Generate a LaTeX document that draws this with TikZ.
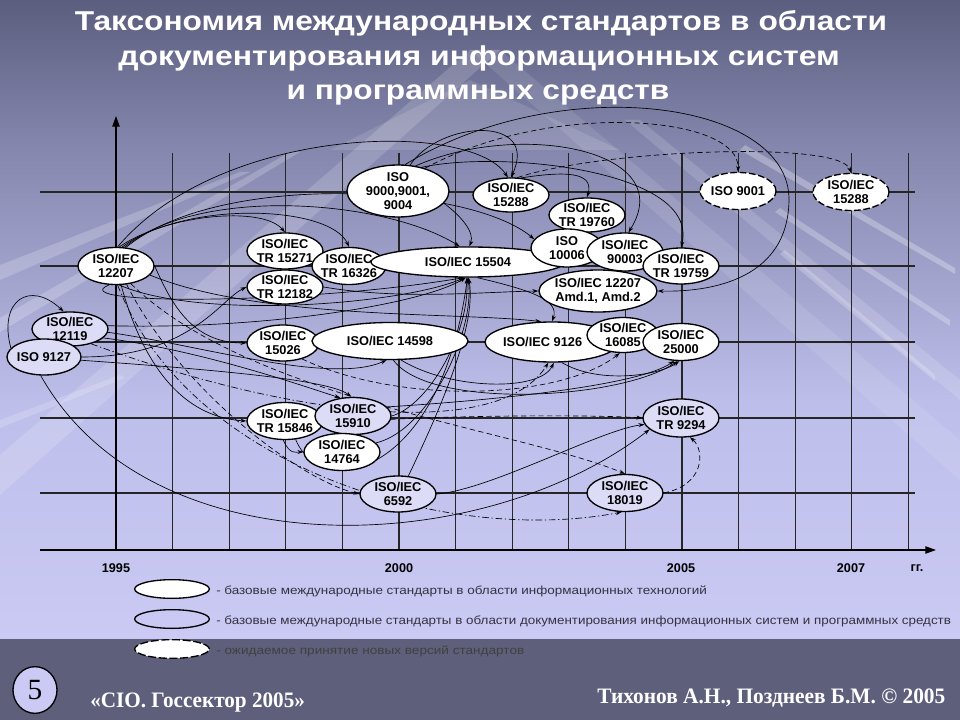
\documentclass[tikz,border=0pt]{standalone}
\usepackage{fontspec}
\usepackage{graphicx}
\setmainfont{Liberation Sans}
\newfontfamily\serifb{Liberation Serif}
\usetikzlibrary{shapes.geometric,arrows.meta}
\pgfdeclarelayer{bg}
\pgfdeclarelayer{edges}
\pgfsetlayers{bg,edges,main}
\definecolor{bgtop}{HTML}{5B5E7E}
\definecolor{bgmidA}{HTML}{8385AC}
\definecolor{bgmidB}{HTML}{BDBEEA}
\definecolor{bglow}{HTML}{CACAF4}
\definecolor{band}{HTML}{5E607B}
\definecolor{lav}{HTML}{DCDCF6}
\definecolor{legtxt}{HTML}{333340}
\begin{document}
\begin{tikzpicture}[x=0.75pt,y=-0.75pt,
  ov/.style 2 args={ellipse,draw=black,line width=1pt,inner xsep=-8pt,inner ysep=-4pt,
     minimum width=#1*1.5pt,minimum height=#2*1.5pt,fill=white,align=center,
     font=\bfseries\fontsize{9.6}{10.4}\selectfont},
  lv/.style={fill=lav},
  ex/.style={dashed,dash pattern=on 5pt off 2pt},
  gridl/.style={line width=0.8pt,black!85},
  axis/.style={line width=0.9pt,black,-{Triangle[length=8pt,width=5.5pt]}},
  c/.style={line width=0.5pt,black,-{Stealth[length=4.5pt,width=3pt]}},
  d/.style={c,dash pattern=on 4pt off 2.5pt},
  dd/.style={c,dash pattern=on 5pt off 2pt on 1pt off 2pt},
  yr/.style={font=\bfseries\fontsize{9.5}{11}\selectfont},
  lego/.style={ellipse,draw=black,line width=1pt,minimum width=56pt,minimum height=14pt,inner sep=0pt},
  legt/.style={anchor=base west,inner sep=0pt,text=legtxt},
  ttl/.style={anchor=base,inner sep=0pt,text=white,font=\bfseries}
]
\useasboundingbox (0,0) rectangle (960,720);

\begin{pgfonlayer}{bg}
  \fill[top color=bgtop,bottom color=bgmidA] (0,0) rectangle (960,141);
  \fill[top color=bgmidA,bottom color=bgmidB] (0,140) rectangle (960,401);
  \fill[top color=bgmidB,bottom color=bglow] (0,400) rectangle (960,640);
  \fill[band] (0,639) rectangle (960,720);
  % light diagonal streaks
  \fill[white,opacity=.16] (0,455) -- (470,50) -- (500,50) -- (0,495) -- cycle;
  \fill[white,opacity=.10] (470,50) -- (500,50) -- (960,440) -- (960,480) -- cycle;
  \fill[white,opacity=.12] (330,150) -- (470,80) -- (620,150) -- cycle;
  \fill[white,opacity=.20] (0,265) -- (240,172) -- (250,172) -- (0,280) -- cycle;
  \fill[white,opacity=.20] (0,318) -- (290,152) -- (300,152) -- (0,332) -- cycle;
  \fill[white,opacity=.18] (0,420) -- (120,375) -- (125,378) -- (0,428) -- cycle;
  \fill[white,opacity=.28] (745,145) -- (955,268) -- (955,274) -- (740,150) -- cycle;
  \fill[white,opacity=.25] (780,208) -- (950,320) -- (950,326) -- (775,212) -- cycle;
  \fill[white,opacity=.22] (785,250) -- (935,375) -- (935,381) -- (780,254) -- cycle;
  \fill[white,opacity=.14] (640,120) -- (960,380) -- (960,400) -- (625,120) -- cycle;
  % grid
  \foreach \i in {1,...,14} \draw[gridl] ({116+56.6*\i},153) -- ({116+56.6*\i},550);
  \foreach \yy in {192,266,342,418,493} \draw[gridl] (40,\yy) -- (915,\yy);
  \draw[axis] (40,550) -- (936,550);
  \draw[axis] (116,550) -- (116,116);
\end{pgfonlayer}

% title
\node[ttl] (t1) at (481,31) {\resizebox{609pt}{15pt}{\vphantom{Тбф}Таксономия международных стандартов в области}};
\node[ttl] (t2) at (479,66) {\resizebox{541pt}{15pt}{\vphantom{Тбф}документирования информационных систем}};
\node[ttl] (t3) at (478,100) {\resizebox{287pt}{15pt}{\vphantom{Тбф}и программных средств}};

% nodes
\node[ov={38}{18.5}] (n12207) at (116,266) {ISO/IEC\\12207};
\node[ov={38}{17},lv] (n12119) at (70,329) {ISO/IEC\\12119};
\node[ov={37}{18},lv] (n9127) at (44,357) {ISO 9127};
\node[ov={51}{26}] (n9000) at (398,191) {ISO\\9000,9001,\\9004};
\node[ov={38}{18}] (n15271) at (285,251) {ISO/IEC\\TR 15271};
\node[ov={38}{17}] (n12182) at (285,287) {ISO/IEC\\TR 12182};
\node[ov={37}{18.5}] (n16326) at (349,266) {ISO/IEC\\TR 16326};
\node[ov={97}{15}] (n15504) at (468,262) {ISO/IEC 15504};
\node[ov={36}{18}] (n15026) at (283,343) {ISO/IEC\\15026};
\node[ov={78}{18.5}] (n14598) at (390,341) {ISO/IEC 14598};
\node[ov={38}{17}] (n15288) at (511,195) {ISO/IEC\\15288};
\node[ov={38}{17}] (n19760) at (587,215) {ISO/IEC\\TR 19760};
\node[ov={36}{19}] (n10006) at (567,248) {ISO\\10006};
\node[ov={38}{19}] (n90003) at (625,252) {ISO/IEC\\90003};
\node[ov={59}{21}] (namd) at (598,291) {ISO/IEC 12207\\Amd.1, Amd.2};
\node[ov={38}{18}] (n19759) at (681,266) {ISO/IEC\\TR 19759};
\node[ov={67}{20}] (n9126) at (552,342) {ISO/IEC 9126\hspace*{14pt}};
\node[ov={36}{17.5}] (n16085) at (623,335) {ISO/IEC\\16085};
\node[ov={38}{18.5}] (n25000) at (681,342) {ISO/IEC\\25000};
\node[ov={38}{18.5},ex] (n9001) at (738,191) {ISO 9001};
\node[ov={38}{18.5},ex] (n15288b) at (851,192) {ISO/IEC\\15288};
\node[ov={38}{18.5}] (n15846) at (285,421) {ISO/IEC\\TR 15846};
\node[ov={38}{18.5},lv] (n15910) at (353,416) {ISO/IEC\\15910};
\node[ov={38}{18.5}] (n14764) at (342,452) {ISO/IEC\\14764};
\node[ov={38}{18},lv] (n6592) at (398,494) {ISO/IEC\\6592};
\node[ov={38}{19},lv] (n9294) at (681,418) {ISO/IEC\\TR 9294};
\node[ov={38}{18.5},lv] (n18019) at (625,493) {ISO/IEC\\18019};

% years
\node[yr] (y1995) at (116,568) {1995};
\node[yr] (y2000) at (399,568) {2000};
\node[yr] (y2005) at (681,568) {2005};
\node[yr] (y2007) at (851,568) {2007};
\node[yr] (ygg) at (917,568) {гг.};

% connectors
\begin{pgfonlayer}{edges}
\draw[c] (n9127.165) .. controls (-2,300) and (30,280) .. (n12119.110);
\draw[c] (n12207.80) .. controls (165,215) and (262,205) .. (n15271.north);
\draw[c] (n12207.72) .. controls (185,200) and (330,205) .. (n16326.north);
\draw[c] (n12207.66) .. controls (200,185) and (385,200) .. (n15504.118);
\draw[c] (n12207.62) .. controls (220,170) and (470,185) .. (n10006.165);
\draw[c] (n12207.85) .. controls (220,125) and (470,120) .. (n15288.100);
\draw[c] (n12207.east) .. controls (170,300) and (190,343) .. (n15026.west);
\draw[c] (n12207.250) .. controls (60,305) and (300,305) .. (n15504.255);
\draw[c] (n12207.280) .. controls (200,320) and (400,305) .. (n15504.258);
\draw[c] (n12119.5) .. controls (260,330) and (420,305) .. (n15504.262);
\draw[c] (n12207.-15) .. controls (260,320) and (460,312) .. (n9126.118);
\draw[c] (n9127.east) .. controls (190,357) and (220,300) .. (n12182.west);
\draw[c] (n12119.-15) .. controls (200,350) and (300,385) .. (n15910.125);
\draw[c] (n9127.-5) .. controls (220,370) and (330,380) .. (n15910.95);
\draw[c] (n12207.-75) .. controls (150,390) and (200,418) .. (n15846.west);
\draw[c] (n15846.-95) .. controls (290,455) and (295,452) .. (n14764.west);
\draw[c] (n15910.east) .. controls (430,405) and (470,330) .. (n15504.265);
\draw[c] (n15846.-60) .. controls (320,500) and (440,480) .. (n15504.268);
\draw[c] (n14764.15) .. controls (430,430) and (475,330) .. (n15504.270);
\draw[c] (n6592.60) .. controls (430,430) and (478,330) .. (n15504.272);
\draw[c] (n6592.east) .. controls (490,490) and (600,430) .. (n9294.190);
\draw[c] (n9127.-100) .. controls (150,570) and (480,560) .. (n9294.200);
\draw[c] (n15504.-60) .. controls (530,290) and (560,300) .. (n9126.north);
\draw[c] (n12182.east) .. controls (400,300) and (480,292) .. (namd.west);
\draw[c] (n9000.75) .. controls (560,70) and (790,100) .. (789,200) .. controls (788,285) and (700,292) .. (namd.east);
\draw[c] (n9000.65) .. controls (440,120) and (540,115) .. (n15288.north);
\draw[c] (n15288.60) .. controls (560,172) and (595,170) .. (n19760.north);
\draw[c] (n9000.55) .. controls (520,120) and (680,150) .. (n90003.80);
\draw[c] (n9000.45) .. controls (500,150) and (700,170) .. (n19759.north);
\draw[c] (n9000.-15) .. controls (460,215) and (475,232) .. (n15504.85);
\draw[c] (n14598.-80) .. controls (430,410) and (620,400) .. (n25000.-100);
\draw[c] (n14598.-60) .. controls (450,390) and (540,392) .. (n9126.-85);
\draw[c] (n9126.-65) .. controls (600,385) and (660,375) .. (n25000.-95);
\draw[c] (n15910.15) .. controls (500,400) and (640,385) .. (n25000.-110);
\draw[c] (n12119.-5) .. controls (200,345) and (330,385) .. (n14598.-100);
\draw[d] (n9000.40) .. controls (550,100) and (740,115) .. (n9001.north);
\draw[d] (n15288.70) .. controls (600,150) and (840,140) .. (n15288b.north);
\draw[d] (n12207.-60) .. controls (180,390) and (300,480) .. (n6592.west);
\draw[d] (n12207.-50) .. controls (250,400) and (520,430) .. (n18019.north);
\draw[d] (n15910.-5) .. controls (480,415) and (600,415) .. (n9294.west);
\draw[d] (n18019.east) .. controls (705,485) and (705,450) .. (n9294.-65);
\draw[d] (n15026.-40) .. controls (400,405) and (560,400) .. (n16085.-100);
\draw[dd] (n12207.-85) .. controls (190,470) and (450,545) .. (n18019.-100);
\draw[dd] (n12119.-35) .. controls (300,420) and (500,440) .. (n9126.-100);
\end{pgfonlayer}

% legend
\node[lego,fill=white] (lg1) at (172,589) {};
\node[lego] (lg2) at (172,619) {};
\node[lego,fill=white,dashed,dash pattern=on 6pt off 2pt] (lg3) at (172,649) {};
\node[legt] (lt1) at (216,594) {\resizebox{368pt}{6.5pt}{\vphantom{б}- базовые международные стандарты в области информационных технологий}};
\node[legt] (lt2) at (216,624) {\resizebox{551pt}{6.5pt}{\vphantom{б}- базовые международные стандарты в области документирования информационных систем и программных средств}};
\node[legt,text=black!75] (lt3) at (216,654) {\resizebox{231pt}{6.5pt}{\vphantom{б}- ожидаемое принятие новых версий стандартов}};

% footer
\node[ellipse,draw=black,line width=1pt,fill=bglow,minimum width=33pt,minimum height=35pt,inner sep=0pt,font=\serifb\fontsize{22}{24}\selectfont] (num) at (35,690) {5};
\node[anchor=base west,inner sep=0pt,text=white] (f1) at (90,707) {\resizebox{161pt}{11pt}{\serifb\bfseries\vphantom{Т}«CIO. Госсектор 2005»}};
\node[anchor=base west,inner sep=0pt,text=white] (f2) at (597,703) {\resizebox{261pt}{11pt}{\serifb\bfseries\vphantom{Т}Тихонов А.Н., Позднеев Б.М. © 2005}};
\end{tikzpicture}
\end{document}
